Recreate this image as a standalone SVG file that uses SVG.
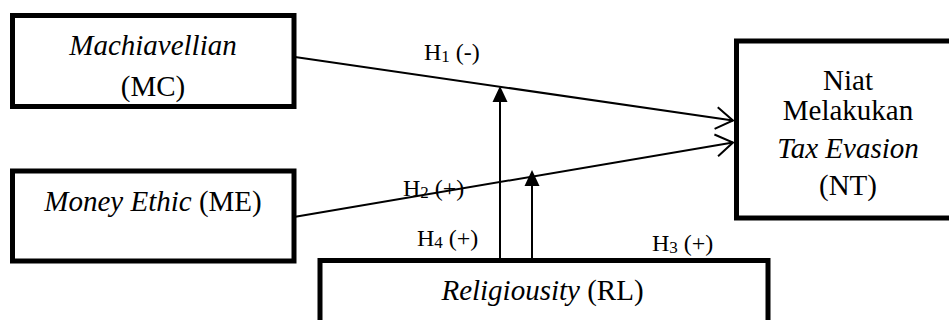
<svg xmlns="http://www.w3.org/2000/svg" width="949" height="320" viewBox="0 0 949 320">
<style>
text{font-family:'Liberation Serif','Times New Roman','DejaVu Serif',serif;fill:#000}
.t{font-size:29px;text-anchor:middle}
.lbl{font-size:24px}
.sub{font-size:17px}
.i{font-style:italic}
.box{fill:#fff;stroke:#000;stroke-width:5}
.ln{stroke:#000;stroke-width:2;fill:none}
</style>
<defs>
<marker id="open" markerUnits="userSpaceOnUse" markerWidth="24" markerHeight="28" viewBox="-20 -14 24 28" refX="0" refY="0" orient="auto">
<path d="M-17,-11 L0,0 L-17,11" fill="none" stroke="#000" stroke-width="2"/>
</marker>
<marker id="fill" markerUnits="userSpaceOnUse" markerWidth="20" markerHeight="20" viewBox="0 -10 20 20" refX="2" refY="0" orient="auto">
<path d="M0,-7.5 L16,0 L0,7.5 Z" fill="#000"/>
</marker>
</defs>
<g id="connectors">
<line class="ln" x1="295" y1="57" x2="733" y2="120.5" marker-end="url(#open)"/>
<line class="ln" x1="288" y1="218" x2="733" y2="142.5" marker-end="url(#open)"/>
<line class="ln" x1="500" y1="259" x2="500" y2="100" marker-end="url(#fill)"/>
<line class="ln" x1="532" y1="259" x2="532" y2="184" marker-end="url(#fill)"/>
<text class="lbl" x="424" y="60" font-family="Liberation Serif, serif">H<tspan class="sub" dy="2">1</tspan><tspan dy="-2"> (-)</tspan></text>
<text class="lbl" x="403" y="196" font-family="Liberation Serif, serif">H<tspan class="sub" dy="2">2</tspan><tspan dy="-2"> (+)</tspan></text>
<text class="lbl" x="417" y="246" font-family="Liberation Serif, serif">H<tspan class="sub" dy="2">4</tspan><tspan dy="-2"> (+)</tspan></text>
<text class="lbl" x="652" y="251" font-family="Liberation Serif, serif">H<tspan class="sub" dy="2">3</tspan><tspan dy="-2"> (+)</tspan></text>
</g>
<g id="MC">
<rect class="box" x="12.5" y="15.5" width="281.5" height="91"/>
<text class="t i" x="153" y="55" font-family="Liberation Serif, serif">Machiavellian</text>
<text class="t" x="153" y="96" font-family="Liberation Serif, serif">(MC)</text>
</g>
<g id="ME">
<rect class="box" x="12.5" y="171" width="281.5" height="90"/>
<text class="t" x="153" y="211" font-family="Liberation Serif, serif"><tspan class="i">Money Ethic</tspan> (ME)</text>
</g>
<g id="NT">
<rect class="box" x="736.5" y="41" width="260" height="177"/>
<text class="t" x="848" y="90" font-family="Liberation Serif, serif">Niat</text>
<text class="t" x="848" y="120" font-family="Liberation Serif, serif">Melakukan</text>
<text class="t i" x="848" y="158" font-family="Liberation Serif, serif">Tax Evasion</text>
<text class="t" x="848" y="195" font-family="Liberation Serif, serif">(NT)</text>
</g>
<g id="RL">
<rect class="box" x="320" y="260.5" width="448" height="80"/>
<text class="t" x="542.5" y="300" font-family="Liberation Serif, serif"><tspan class="i">Religiousity</tspan> (RL)</text>
</g>
</svg>
